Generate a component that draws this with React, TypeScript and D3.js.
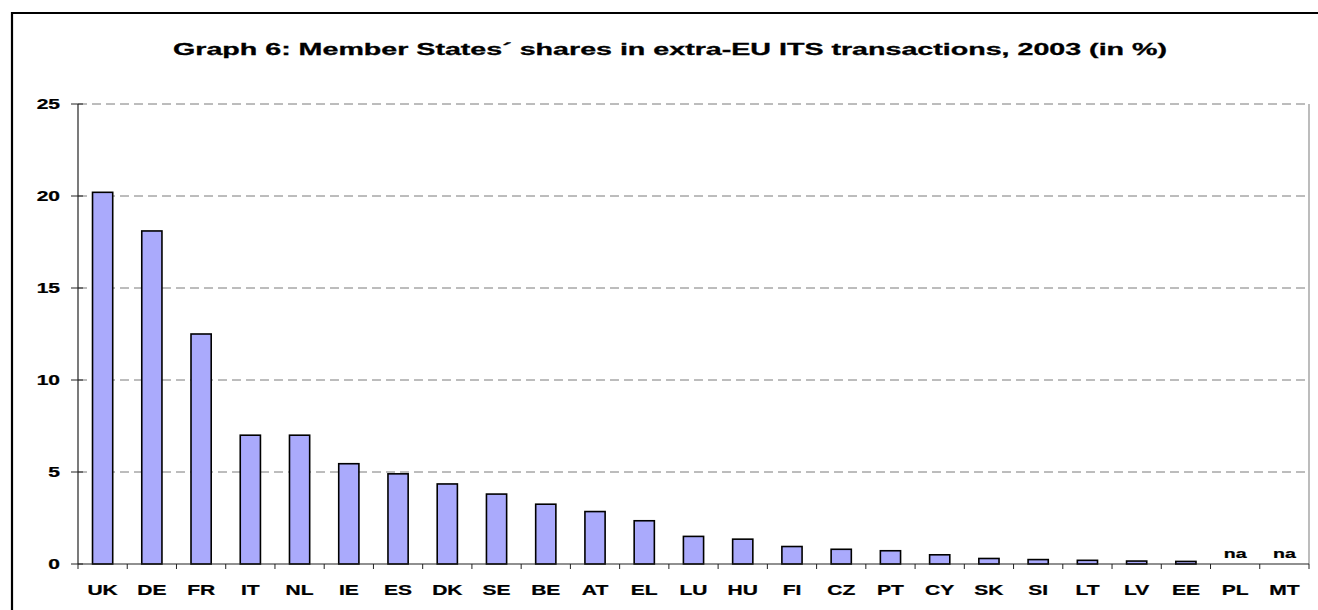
import React, { useRef, useEffect } from "react";
import * as d3 from "d3";

const countries = [
  "UK", "DE", "FR", "IT", "NL", "IE", "ES", "DK", "SE", "BE", "AT", "EL", "LU",
  "HU", "FI", "CZ", "PT", "CY", "SK", "SI", "LT", "LV", "EE", "PL", "MT",
];

// share in extra-EU ITS transactions, 2003 (%); null = not available
const shares: (number | null)[] = [
  20.2, 18.1, 12.5, 7.0, 7.0, 5.45, 4.9, 4.35, 3.8, 3.25, 2.85, 2.35, 1.5,
  1.35, 0.95, 0.8, 0.72, 0.5, 0.3, 0.24, 0.2, 0.16, 0.14, null, null,
];

const yTicks = [0, 5, 10, 15, 20, 25];

const title = "Graph 6: Member States\u00B4 shares in extra-EU ITS transactions, 2003 (in %)";

const App = () => {
  const ref = useRef<SVGSVGElement>(null);

  useEffect(() => {
    const svg = d3.select(ref.current);
    svg.selectAll("*").remove();

    const width = 1318;
    const height = 610;
    const left = 78;
    const right = 1309;
    const top = 104;
    const bottom = 564;
    const font = "'Liberation Sans', Arial, sans-serif";
    const stretch = 1.5;

    svg.attr("width", width).attr("height", height);

    // outer frame, only top and left edges are inside the picture
    svg.append("line")
      .attr("x1", 12).attr("x2", 12)
      .attr("y1", 12).attr("y2", height)
      .attr("stroke", "black").attr("stroke-width", 2.2);
    svg.append("line")
      .attr("x1", 11).attr("x2", width)
      .attr("y1", 13).attr("y2", 13)
      .attr("stroke", "black").attr("stroke-width", 2.2);

    svg.append("text")
      .attr("x", 173)
      .attr("y", 55)
      .attr("font-family", font)
      .attr("font-size", "16.5px")
      .attr("font-weight", "bold")
      .attr("stroke", "black")
      .attr("stroke-width", 0.3)
      .attr("textLength", 994)
      .attr("lengthAdjust", "spacingAndGlyphs")
      .text(title);

    const x = d3.scaleBand().domain(countries).range([left, right]).padding(0);
    const y = d3.scaleLinear().domain([0, 25]).range([bottom, top]);
    const barW = x.bandwidth() * 0.41;

    // gridlines
    svg.append("g")
      .selectAll("line")
      .data(yTicks.filter((d) => d > 0))
      .enter()
      .append("line")
      .attr("x1", left)
      .attr("x2", right)
      .attr("y1", (d) => y(d))
      .attr("y2", (d) => y(d))
      .attr("stroke", "#7a7a7a")
      .attr("stroke-width", 1)
      .attr("stroke-dasharray", "9,5");

    // right border of plot area
    svg.append("line")
      .attr("x1", right)
      .attr("x2", right)
      .attr("y1", top)
      .attr("y2", bottom)
      .attr("stroke", "#909090")
      .attr("stroke-width", 1.2);

    const g = svg.append("g");

    g.selectAll("rect.bar")
      .data(countries.map((c, i) => ({ c, v: shares[i] })).filter((d) => d.v !== null))
      .enter()
      .append("rect")
      .attr("class", "bar")
      .attr("x", (d) => x(d.c)! + x.bandwidth() / 2 - barW / 2)
      .attr("y", (d) => y(d.v as number))
      .attr("width", barW)
      .attr("height", (d) => bottom - y(d.v as number))
      .attr("fill", "#AAAAFC")
      .attr("stroke", "black")
      .attr("stroke-width", 1.6);

    const label = (sel: any, size: number) =>
      sel.attr("font-family", font)
        .attr("font-size", `${size}px`)
        .attr("font-weight", "bold")
        .attr("stroke", "black")
        .attr("stroke-width", 0.25);

    // na labels
    g.selectAll("text.na")
      .data(countries.filter((c, i) => shares[i] === null))
      .enter()
      .append("text")
      .attr("class", "na")
      .attr("transform", (d) => `translate(${x(d)! + x.bandwidth() / 2},558) scale(${stretch},1)`)
      .attr("text-anchor", "middle")
      .call(label, 13)
      .text("na");

    // axes
    svg.append("line")
      .attr("x1", left).attr("x2", left)
      .attr("y1", top).attr("y2", bottom)
      .attr("stroke", "#222").attr("stroke-width", 1.2);
    svg.append("line")
      .attr("x1", left).attr("x2", right)
      .attr("y1", bottom).attr("y2", bottom)
      .attr("stroke", "#222").attr("stroke-width", 1.2);

    svg.append("g")
      .selectAll("line")
      .data(yTicks)
      .enter()
      .append("line")
      .attr("x1", left - 7)
      .attr("x2", left + 5)
      .attr("y1", (d) => y(d))
      .attr("y2", (d) => y(d))
      .attr("stroke", "#222");

    svg.append("g")
      .selectAll("text")
      .data(yTicks)
      .enter()
      .append("text")
      .attr("transform", (d) => `translate(60,${y(d) + 5}) scale(${stretch},1)`)
      .attr("text-anchor", "end")
      .call(label, 14)
      .text((d) => d);

    const bounds = countries.map((c) => x(c)!).concat([right]);
    svg.append("g")
      .selectAll("line")
      .data(bounds)
      .enter()
      .append("line")
      .attr("x1", (d) => d)
      .attr("x2", (d) => d)
      .attr("y1", bottom)
      .attr("y2", bottom + 5)
      .attr("stroke", "#222");

    svg.append("g")
      .selectAll("text")
      .data(countries)
      .enter()
      .append("text")
      .attr("transform", (d) => `translate(${x(d)! + x.bandwidth() / 2},595) scale(${stretch},1)`)
      .attr("text-anchor", "middle")
      .call(label, 14)
      .text((d) => d);
  }, []);

  return (
    <svg ref={ref} style={{ position: "absolute", left: 0, top: 0, display: "block", overflow: "hidden" }}></svg>
  );
};

export default App;
